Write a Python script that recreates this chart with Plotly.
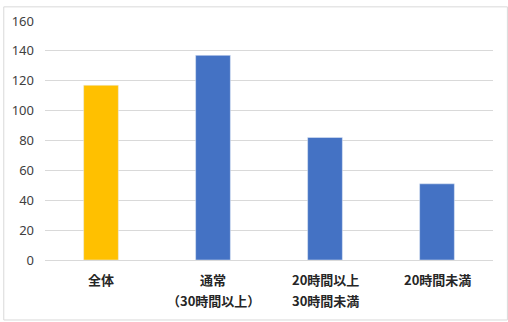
import plotly.graph_objects as go

categories = ["全体", "通常\n（30時間以上）", "20時間以上\n30時間未満", "20時間未満"]
values = [117, 137, 82, 51]
colors = ["#FFC000", "#4472C4", "#4472C4", "#4472C4"]
y_ticks = [0, 20, 40, 60, 80, 100, 120, 140, 160]

W, H = 508, 322
L, R, T, B = 42, 15, 15, 62
pw, ph = W - L - R, H - T - B

fig = go.Figure(go.Bar(x=categories, y=values, marker_color=colors, width=0.31))

annotations = []
for c in categories:
    for i, line in enumerate(c.split("\n")):
        annotations.append(dict(
            x=c, xref="x", yref="paper", y=-(20 + 22 * i) / ph,
            text=line, showarrow=False, yanchor="middle", xanchor="center",
            font=dict(size=13, color="#262626",
                      family="Noto Sans CJK JP, sans-serif", weight="bold")))

fig.update_layout(
    width=W, height=H,
    margin=dict(l=L, r=R, t=T, b=B),
    paper_bgcolor="white", plot_bgcolor="white",
    showlegend=False,
    font=dict(family="Noto Sans CJK JP, Noto Sans, sans-serif", color="#404040"),
    xaxis=dict(showticklabels=False, showgrid=False, showline=False, ticks=""),
    yaxis=dict(range=[0, 160], tickvals=y_ticks, gridcolor="#D9D9D9", gridwidth=1,
               zeroline=True, zerolinecolor="#D9D9D9", zerolinewidth=1,
               tickfont=dict(size=13, color="#404040", family="Noto Sans, sans-serif"),
               ticks="", ticklabelstandoff=10),
    annotations=annotations,
    shapes=[dict(type="rect", xref="paper", yref="paper",
                 x0=-(L - 0.5) / pw, x1=1 + (R - 0.5) / pw,
                 y0=-(B - 0.5) / ph, y1=1 + (T - 0.5) / ph,
                 line=dict(color="#D9D9D9", width=1), layer="below")],
)

fig.write_html("out.html")
